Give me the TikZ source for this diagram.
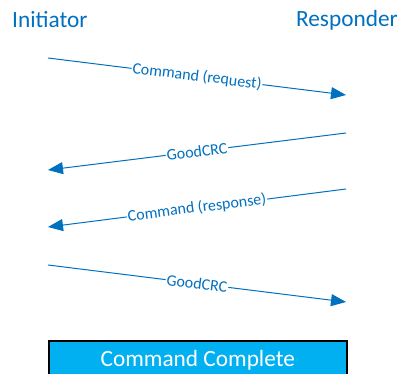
\documentclass[tikz,border=0pt]{standalone}
\usepackage{fontspec}
\setmainfont{Carlito}
\usetikzlibrary{arrows.meta}
\definecolor{msgblue}{HTML}{0070C0}
\definecolor{boxcyan}{HTML}{00B0F0}
\tikzset{
  title/.style={text=msgblue, font=\fontsize{23.3}{27}\selectfont, inner sep=0pt},
  msg/.style={draw=msgblue, line width=1pt, -{Triangle[length=15pt,width=12pt]}},
  lbl/.style={midway, sloped, fill=white, text=msgblue, inner sep=1pt, font=\fontsize{16}{19}\selectfont},
  donebox/.style={draw=black, line width=1.6pt, fill=boxcyan, text=white, font=\fontsize{23.3}{27}\selectfont, minimum width=298pt, minimum height=38pt, inner sep=0pt}
}
\begin{document}
\begin{tikzpicture}[x=1pt,y=-1pt]
\useasboundingbox (0,0) rectangle (399,374);
\node[title, anchor=west] (init) at (12,20) {Initiator};
\node[title, anchor=east] (resp) at (398,20) {Responder};
\coordinate (a1) at (48,58);  \coordinate (b1) at (346,95);
\coordinate (a2) at (346,133); \coordinate (b2) at (48,170);
\coordinate (a3) at (346,189); \coordinate (b3) at (48,227);
\coordinate (a4) at (48,265); \coordinate (b4) at (346,302);
\draw[msg] (a1) -- node[lbl] {Command (request)} (b1);
\draw[msg] (a2) -- node[lbl] {GoodCRC} (b2);
\draw[msg] (a3) -- node[lbl] {Command (response)} (b3);
\draw[msg] (a4) -- node[lbl] {GoodCRC} (b4);
\node[donebox, anchor=north west] (done) at (48,340) {Command Complete};
\end{tikzpicture}
\end{document}
